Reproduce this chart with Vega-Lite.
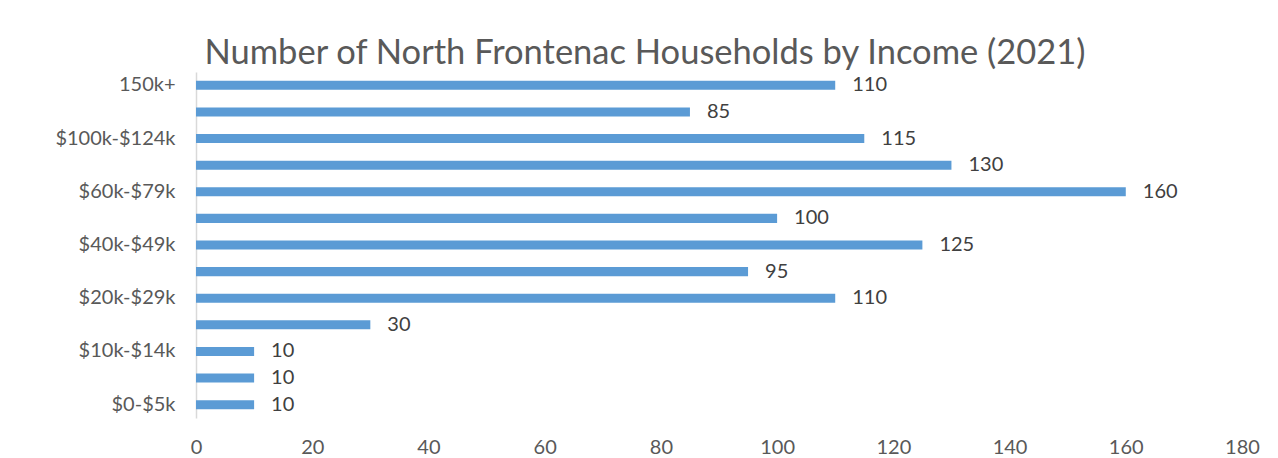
{
  "$schema": "https://vega.github.io/schema/vega-lite/v6.json",
  "width": 1046,
  "height": 346,
  "autosize": {"type": "none"},
  "padding": {"left": 196, "top": 72, "right": 36, "bottom": 40},
  "background": "white",
  "config": {
    "view": {"stroke": null},
    "font": "Lato"
  },
  "title": {
    "text": "Number of North Frontenac Households by Income (2021)",
    "fontSize": 34.5,
    "fontWeight": "normal",
    "color": "#595959",
    "font": "Lato",
    "anchor": "middle",
    "dx": -74,
    "offset": 1
  },
  "data": {
    "values": [
      {"income": "150k+", "households": 110},
      {"income": "$125k-$149k", "households": 85},
      {"income": "$100k-$124k", "households": 115},
      {"income": "$80k-$99k", "households": 130},
      {"income": "$60k-$79k", "households": 160},
      {"income": "$50k-$59k", "households": 100},
      {"income": "$40k-$49k", "households": 125},
      {"income": "$30k-$39k", "households": 95},
      {"income": "$20k-$29k", "households": 110},
      {"income": "$15k-$19k", "households": 30},
      {"income": "$10k-$14k", "households": 10},
      {"income": "$5k-$9k", "households": 10},
      {"income": "$0-$5k", "households": 10}
    ]
  },
  "encoding": {
    "y": {
      "field": "income",
      "type": "nominal",
      "sort": null,
      "scale": {"paddingInner": 0.66, "paddingOuter": 0.33},
      "axis": {
        "title": null,
        "ticks": false,
        "domainColor": "#d9d9d9",
        "domainWidth": 1.5,
        "labelFontSize": 20,
        "labelColor": "#595959",
        "labelPadding": 21,
        "labelFont": "Lato",
        "labelExpr": "indexof(['$125k-$149k','$80k-$99k','$50k-$59k','$30k-$39k','$15k-$19k','$5k-$9k'], datum.value) >= 0 ? '' : datum.label"
      }
    },
    "x": {
      "field": "households",
      "type": "quantitative",
      "scale": {"domain": [0, 180], "nice": false},
      "axis": {
        "title": null,
        "values": [0, 20, 40, 60, 80, 100, 120, 140, 160, 180],
        "grid": false,
        "domain": false,
        "ticks": false,
        "labelFontSize": 20,
        "labelColor": "#595959",
        "labelPadding": 19,
        "labelFont": "Lato",
        "labelFlush": false
      }
    }
  },
  "layer": [
    {"mark": {"type": "bar", "color": "#5b9bd5"}},
    {
      "mark": {"type": "text", "align": "left", "baseline": "middle", "dx": 17, "fontSize": 20, "color": "#404040", "font": "Lato"},
      "encoding": {"text": {"field": "households", "type": "quantitative"}}
    }
  ]
}
